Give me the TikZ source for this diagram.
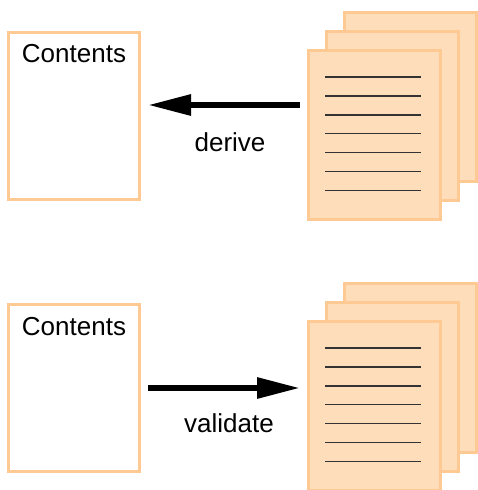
\documentclass[tikz,border=0pt]{standalone}
\usepackage{fontspec}
\setmainfont{Liberation Sans}
\usetikzlibrary{arrows.meta}
\definecolor{pagefill}{RGB}{253,221,186}
\definecolor{pageedge}{RGB}{255,201,148}
\tikzset{
  lbl/.style={font=\fontsize{26}{30}\selectfont, anchor=base, inner sep=0pt},
  contentbox/.style={draw=pageedge, line width=3pt, fill=white, minimum width=131pt, minimum height=167pt, inner sep=0pt},
  page/.style={draw=pageedge, line width=3pt, fill=pagefill, minimum width=132pt, minimum height=169pt, inner sep=0pt},
  textline/.style={draw=black!80, line width=1.4pt},
  bigarrow/.style={line width=6pt, -{Triangle[length=43pt,width=20pt]}}
}
\newcommand{\pagelines}[1]{%
  \foreach \k in {0,...,6} {
    \draw[textline] ([xshift=18pt,yshift=-28pt-18.9pt*\k]#1.north west) -- ([xshift=114pt,yshift=-28pt-18.9pt*\k]#1.north west);
  }%
}
\begin{document}
\begin{tikzpicture}[x=1pt,y=-1pt]
\useasboundingbox (0,0) rectangle (477,490);
% top
\node[contentbox] (boxA) at (73.5,115.5) {};
\node[lbl] (txtA) at (74,62) {Contents};
\node[page] (pA3) at (410.5,97) {};
\node[page] (pA2) at (392.5,116) {};
\node[page] (pA1) at (374.5,135) {};
\pagelines{pA1}
\coordinate (aAs) at (300,105);
\coordinate (aAe) at (148,105);
\draw[bigarrow] (aAs) -- (aAe);
\node[lbl] (derive) at (230,151) {derive};
% bottom
\node[contentbox] (boxB) at (73.5,387.5) {};
\node[lbl] (txtB) at (74,335) {Contents};
\node[page] (pB3) at (410.5,368) {};
\node[page] (pB2) at (392.5,387) {};
\node[page] (pB1) at (374.5,406) {};
\pagelines{pB1}
\coordinate (aBs) at (148,388);
\coordinate (aBe) at (300,388);
\draw[bigarrow] (aBs) -- (aBe);
\node[lbl] (validate) at (229,432) {validate};
\end{tikzpicture}
\end{document}
